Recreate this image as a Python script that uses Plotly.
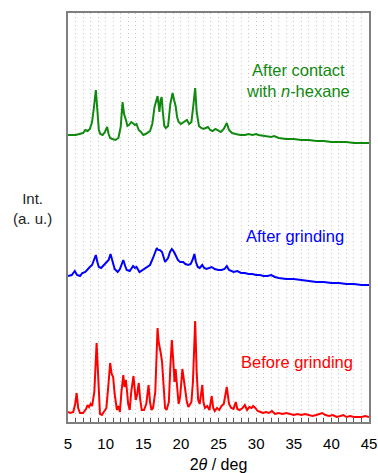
import plotly.graph_objects as go

# ---- data (2theta in deg, intensity in arbitrary units incl. vertical offsets) ----
red_2theta = [5.0, 5.3, 5.7, 5.95, 6.15, 6.35, 6.6, 7.0, 7.4, 7.6, 7.8, 8.0, 8.2, 8.5, 8.8, 9.0, 9.25, 9.5, 9.8, 10.1,
              10.4, 10.6, 10.8, 11.0, 11.2, 11.5, 11.7, 11.9, 12.1, 12.35, 12.5, 12.7, 12.85, 13.0, 13.2, 13.4, 13.7, 13.85, 14.0, 14.2,
              14.4, 14.6, 14.8, 15.1, 15.4, 15.7, 15.9, 16.1, 16.3, 16.6, 16.9, 17.05, 17.2, 17.35, 17.5, 17.7, 17.9, 18.1, 18.4, 18.6,
              18.8, 19.0, 19.15, 19.3, 19.5, 19.7, 19.9, 20.2, 20.4, 20.6, 20.8, 21.0, 21.2, 21.4, 21.6, 21.9, 22.1, 22.3, 22.5, 22.85,
              23.0, 23.2, 23.5, 23.8, 24.1, 24.3, 24.5, 24.8, 25.1, 25.4, 25.7, 26.1, 26.4, 26.7, 27.0, 27.3, 27.5, 27.8, 28.2, 28.5,
              28.8, 29.1, 29.4, 29.6, 29.9, 30.2, 30.6, 30.9, 31.3, 31.7, 32.1, 32.5, 33.0, 33.5, 34.0, 34.5, 35.0, 35.5, 36.0, 36.5,
              37.0, 37.5, 38.0, 38.5, 38.8, 39.2, 39.7, 40.2, 40.7, 41.2, 41.6, 42.0, 42.5, 43.0, 43.5, 44.0, 44.5, 45.0]
red_int = [10, 9, 10, 18, 29, 14, 9, 9, 13, 17, 15, 18, 16, 30, 79, 40, 8, 7, 10, 14,
           40, 59, 48, 45, 28, 12, 16, 10, 30, 47, 35, 42, 30, 18, 12, 30, 46, 30, 22, 28,
           39, 22, 12, 12, 18, 37, 20, 12, 14, 30, 94, 80, 75, 68, 60, 30, 14, 12, 20, 55,
           82, 60, 40, 53, 30, 18, 25, 53, 42, 30, 20, 15, 18, 20, 40, 101, 50, 22, 18, 37,
           20, 14, 16, 12, 26, 14, 11, 14, 12, 16, 18, 35, 18, 14, 13, 20, 13, 12, 14, 17,
           12, 15, 14, 16, 14, 11, 10, 9, 10, 9, 11, 8, 9, 8, 9, 8, 7, 8, 7, 8,
           7, 6, 7, 8, 9, 7, 6, 7, 5, 6, 7, 5, 6, 5, 5, 5, 6, 5]

blue_2theta = [5.0, 5.5, 5.9, 6.2, 6.6, 6.9, 7.3, 7.6, 7.9, 8.2, 8.5, 8.7, 8.9, 9.1, 9.4, 9.8, 10.1, 10.4, 10.65, 10.9,
               11.2, 11.6, 11.9, 12.15, 12.35, 12.6, 12.8, 13.2, 13.45, 13.65, 13.9, 14.1, 14.5, 14.9, 15.2, 15.6, 15.9, 16.3, 16.6, 16.8,
               17.0, 17.2, 17.5, 17.7, 17.9, 18.1, 18.3, 18.55, 18.8, 19.1, 19.3, 19.6, 19.9, 20.3, 20.6, 21.0, 21.3, 21.55, 21.8, 22.0,
               22.25, 22.5, 22.85, 23.1, 23.4, 23.7, 24.1, 24.5, 25.0, 25.4, 25.8, 26.1, 26.4, 27.0, 27.5, 28.0, 28.5, 29.0, 29.5, 30.0,
               30.5, 31.0, 31.5, 32.0, 32.5, 33.0, 34.0, 35.0, 36.0, 37.0, 38.0, 39.0, 40.0, 41.0, 42.0, 43.0, 44.0, 45.0]
blue_int = [146, 147, 151, 147, 146, 149, 150, 153, 155, 157, 163, 167, 160, 155, 154, 157, 160, 162, 168, 160,
            153, 150, 153, 158, 162, 156, 152, 151, 154, 156, 154, 155, 150, 152, 154, 156, 157, 164, 170, 174,
            172, 172, 170, 164, 160, 162, 164, 170, 173, 170, 167, 162, 160, 160, 158, 157, 158, 162, 168, 160,
            155, 154, 157, 154, 153, 154, 155, 153, 152, 152, 153, 156, 152, 150, 151, 149, 149, 148, 148, 147,
            147, 146, 146, 147, 145, 144, 143, 143, 142, 141, 140, 140, 139, 139, 138, 138, 137, 137]

green_2theta = [5.0, 5.5, 6.0, 6.5, 7.0, 7.3, 7.6, 7.9, 8.2, 8.45, 8.7, 8.9, 9.1, 9.3, 9.6, 9.9, 10.2, 10.4, 10.6, 10.9,
                11.3, 11.7, 12.0, 12.25, 12.45, 12.7, 12.9, 13.1, 13.4, 13.6, 13.9, 14.1, 14.4, 14.7, 15.0, 15.3, 15.6, 15.9, 16.2, 16.5,
                16.9, 17.05, 17.15, 17.3, 17.45, 17.6, 17.8, 18.0, 18.3, 18.6, 18.9, 19.1, 19.3, 19.5, 19.7, 20.0, 20.4, 20.8, 21.1, 21.4,
                21.65, 21.9, 22.1, 22.4, 22.7, 23.0, 23.3, 23.6, 23.9, 24.2, 24.6, 24.9, 25.3, 25.7, 26.1, 26.4, 26.8, 27.3, 27.9, 28.5,
                29.0, 29.5, 30.0, 30.3, 31.0, 31.5, 32.0, 32.4, 33.0, 34.0, 35.0, 36.0, 37.0, 38.0, 39.0, 40.0, 41.0, 42.0, 43.0, 44.0, 45.0]
green_int = [287, 287, 287, 288, 289, 292, 291, 293, 300, 315, 332, 312, 292, 288, 287, 290, 295, 288, 284, 283,
             282, 284, 295, 320, 308, 302, 296, 297, 300, 299, 297, 298, 292, 290, 287, 288, 290, 291, 298, 315,
             326, 316, 310, 322, 325, 310, 296, 294, 296, 318, 329, 322, 316, 305, 300, 298, 300, 302, 298, 300,
             316, 334, 310, 296, 294, 293, 294, 295, 292, 291, 293, 292, 290, 293, 299, 292, 289, 288, 287, 287,
             288, 287, 288, 287, 286, 285, 285, 286, 284, 283, 283, 282, 282, 281, 281, 280, 280, 280, 279, 279, 279]

x_tickvals = [5, 10, 15, 20, 25, 30, 35, 40, 45]
x_ticktext = ["5", "10", "15", "20", "25", "30", "35", "40", "45"]

FONT = "Liberation Sans, Arial, sans-serif"
GREEN = "#0f8a0f"
BLUE = "#0000ff"
RED = "#ff0000"
GRID = "#c4c4c4"

fig = go.Figure()
fig.add_trace(go.Scatter(x=red_2theta, y=red_int, mode="lines", line=dict(color=RED, width=2), showlegend=False))
fig.add_trace(go.Scatter(x=blue_2theta, y=blue_int, mode="lines", line=dict(color=BLUE, width=2), showlegend=False))
fig.add_trace(go.Scatter(x=green_2theta, y=green_int, mode="lines", line=dict(color=GREEN, width=2), showlegend=False))

fig.update_layout(
    width=378, height=473, autosize=False,
    margin=dict(l=68, r=9, t=13, b=51),
    paper_bgcolor="white", plot_bgcolor="white",
    font=dict(family=FONT, size=15, color="black"),
)
fig.update_xaxes(
    range=[5, 45], tickvals=x_tickvals, ticktext=x_ticktext, automargin=False,
    showline=True, mirror=True, linecolor="#7f7f7f", linewidth=1.5,
    ticks="inside", ticklen=4, tickcolor="#555555", tickwidth=1,
    ticklabelstandoff=7,
    showgrid=True, gridcolor=GRID, griddash="1px,3px", gridwidth=1,
    minor=dict(dtick=1, ticks="inside", ticklen=4, tickcolor="#555555",
               showgrid=True, gridcolor=GRID, griddash="1px,3px", gridwidth=1),
    zeroline=False,
    tickfont=dict(size=15, family=FONT),
    title=dict(text="2<i>θ</i> / deg", font=dict(size=16, family=FONT), standoff=10),
)
fig.update_yaxes(
    range=[0, 409], automargin=False, showline=True, mirror=True, linecolor="#7f7f7f", linewidth=1.5,
    showticklabels=False, ticks="", showgrid=False, zeroline=False,
)

fig.add_annotation(x=-0.118, y=0.522, xref="paper", yref="paper", text="Int.<br>(a. u.)", showarrow=False,
                   font=dict(size=15, color="#222222", family=FONT), align="center", xanchor="center", yanchor="middle")
fig.add_annotation(x=35.5, y=342, text="After contact<br>with <i>n</i>-hexane", showarrow=False,
                   font=dict(size=16.5, color=GREEN, family=FONT), align="center", xanchor="center", yanchor="middle")
fig.add_annotation(x=35.2, y=186, text="After grinding", showarrow=False,
                   font=dict(size=16.5, color=BLUE, family=FONT), xanchor="center", yanchor="middle")
fig.add_annotation(x=35.4, y=60, text="Before grinding", showarrow=False,
                   font=dict(size=16.5, color=RED, family=FONT), xanchor="center", yanchor="middle")

fig.write_html("out.html",
               config={"responsive": False, "displayModeBar": False},
               post_script="document.body.style.margin='0';document.body.style.padding='0';document.body.style.overflow='hidden';")
